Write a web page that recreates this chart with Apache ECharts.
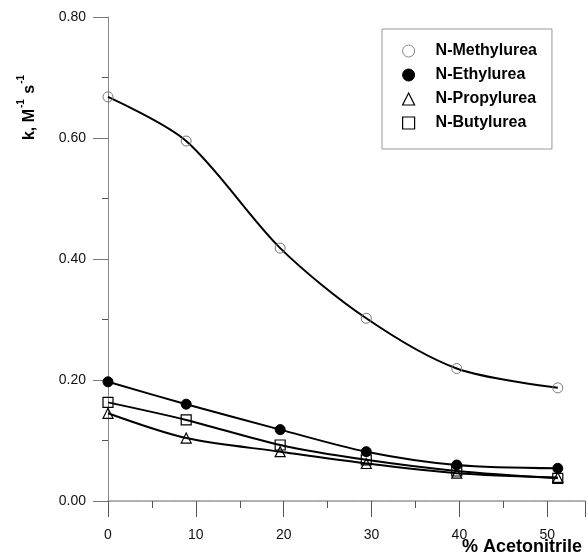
<!DOCTYPE html>
<html>
<head>
<meta charset="utf-8">
<script src="https://cdn.jsdelivr.net/npm/echarts@6/dist/echarts.min.js"></script>
<style>
html,body{margin:0;padding:0;background:#fff;}
#c{width:588px;height:559px;}
</style>
</head>
<body>
<div id="c"></div>
<script>
// ---- data ----
const acetonitrile = [0, 8.9, 19.6, 29.4, 39.7, 51.2];
const methylurea = [0.668, 0.595, 0.418, 0.302, 0.219, 0.187];
const ethylurea  = [0.197, 0.160, 0.118, 0.0815, 0.0595, 0.054];
const propylurea = [0.145, 0.104, 0.0815, 0.062, 0.046, 0.039];
const butylurea  = [0.163, 0.134, 0.0926, 0.068, 0.0496, 0.0375];
const seriesNames = ['N-Methylurea', 'N-Ethylurea', 'N-Propylurea', 'N-Butylurea'];
const xTicks = [0, 10, 20, 30, 40, 50];
const yTicks = [0.00, 0.20, 0.40, 0.60, 0.80];

const FONT = 'Liberation Sans, Arial, Helvetica, sans-serif';
const pairs = v => acetonitrile.map((x, i) => [x, v[i]]);

const chart = echarts.init(document.getElementById('c'), null, {renderer: 'canvas'});

const markerStyles = [
  {symbol: 'circle', itemStyle: {color: 'rgba(255,255,255,0)', borderColor: '#777', borderWidth: 1}, legendStyle: {color: '#fff', borderColor: '#888', borderWidth: 1}, size: 10},
  {symbol: 'circle', itemStyle: {color: '#000', borderColor: '#000', borderWidth: 1}, legendStyle: {color: '#000', borderColor: '#000', borderWidth: 1}, size: 10},
  {symbol: 'triangle', itemStyle: {color: 'rgba(255,255,255,0)', borderColor: '#000', borderWidth: 1.2}, legendStyle: {color: '#fff', borderColor: '#000', borderWidth: 1.2}, size: 10},
  {symbol: 'rect', itemStyle: {color: 'rgba(255,255,255,0)', borderColor: '#000', borderWidth: 1.2}, legendStyle: {color: '#fff', borderColor: '#000', borderWidth: 1.2}, size: 10}
];
const values = [methylurea, ethylurea, propylurea, butylurea];

const option = {
  animation: false,
  backgroundColor: '#fff',
  grid: {left: 108, top: 17, right: 0, bottom: 58, containLabel: false},
  xAxis: [{
    type: 'value', min: 0, max: 54.3, interval: 10,
    axisLine: {show: true, onZero: false, lineStyle: {color: '#999', width: 1.5}},
    axisTick: {show: true, length: 16, lineStyle: {color: '#555', width: 1}},
    minorTick: {show: true, splitNumber: 2, length: 7, lineStyle: {color: '#555', width: 1}},
    splitLine: {show: false},
    axisLabel: {
      margin: 27, fontSize: 14, color: '#111', fontFamily: FONT,
      formatter: v => (xTicks.indexOf(v) >= 0 ? String(v) : '')
    }
  }, {
    type: 'value', position: 'top', min: 0, max: 54.3,
    axisLine: {show: true, lineStyle: {color: '#aaa', width: 1, type: [6, 3]}},
    axisTick: {show: false}, axisLabel: {show: false}, splitLine: {show: false}
  }],
  yAxis: {
    type: 'value', min: 0, max: 0.8, interval: 0.2,
    axisLine: {show: true, lineStyle: {color: '#888', width: 1}},
    axisTick: {show: true, length: 15, lineStyle: {color: '#777', width: 1}},
    minorTick: {show: true, splitNumber: 2, length: 6, lineStyle: {color: '#555', width: 1}},
    splitLine: {show: false},
    axisLabel: {
      margin: 22, fontSize: 14, color: '#111', fontFamily: FONT,
      formatter: v => v.toFixed(2)
    }
  },
  legend: {
    orient: 'vertical', left: 382, top: 29,
    padding: [14, 15, 18, 20],
    borderColor: '#999', borderWidth: 1,
    itemWidth: 12, itemHeight: 12, itemGap: 8,
    textStyle: {fontSize: 16, fontWeight: 'bold', color: '#000', fontFamily: FONT, lineHeight: 16, padding: [0, 0, 0, 16]},
    data: seriesNames.map((n, i) => ({
      name: n,
      icon: markerStyles[i].symbol,
      itemStyle: markerStyles[i].legendStyle
    }))
  },
  graphic: [{
    type: 'text', x: 27, y: 107, rotation: Math.PI / 2,
    style: {
      text: '{a|k, M}{s|-1}{a| s}{s|-1}',
      align: 'center', verticalAlign: 'middle',
      rich: {
        a: {fontSize: 16, fontWeight: 'bold', fontFamily: FONT, fill: '#000', lineHeight: 22, verticalAlign: 'bottom'},
        s: {fontSize: 10, fontWeight: 'bold', fontFamily: FONT, fill: '#000', lineHeight: 22, verticalAlign: 'top', padding: [0, 1, 0, 1]}
      }
    }
  }, {
    type: 'text', x: 582, y: 547,
    style: {
      text: '% Acetonitrile', align: 'right', verticalAlign: 'middle',
      fontSize: 18, fontWeight: 'bold', fontFamily: FONT, fill: '#000'
    }
  }],
  series: seriesNames.map((n, i) => ({
    name: n, type: 'line', xAxisIndex: 0,
    data: pairs(values[i]),
    smooth: 0.3,
    symbol: markerStyles[i].symbol,
    symbolSize: markerStyles[i].size,
    showAllSymbol: true,
    lineStyle: {color: '#000', width: 2},
    itemStyle: markerStyles[i].itemStyle,
    z: i === 0 ? 2 : 3
  }))
};
chart.setOption(option);
</script>
</body>
</html>
